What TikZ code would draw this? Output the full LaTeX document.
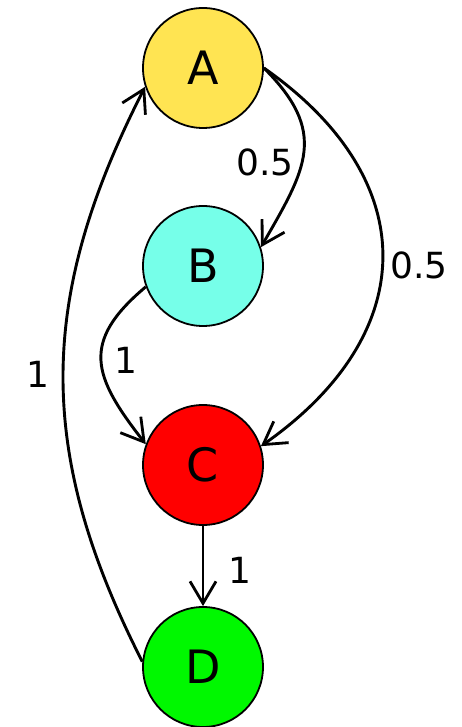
\documentclass[tikz,border=0pt]{standalone}
\usepackage{fontspec}
\setmainfont{DejaVu Sans}
\usetikzlibrary{arrows.meta}
\definecolor{stateyellow}{HTML}{FFE452}
\definecolor{stateaqua}{HTML}{76FFE9}
\definecolor{statered}{HTML}{FF0000}
\definecolor{stategreen}{HTML}{00F800}

\begin{document}
\begin{tikzpicture}[
  x=1pt,y=1pt,
  state/.style={circle,draw=black,line width=1.8pt,minimum size=120pt,
                inner sep=0pt,font=\fontsize{46}{50}\selectfont},
  edge/.style={-{Straight Barb[length=22pt,width=26pt,line width=2.8pt]},
               line width=2.9pt,draw=black},
  weight/.style={font=\fontsize{36}{40}\selectfont,inner sep=7pt}
]
\useasboundingbox (0,0) rectangle (462,727);

% states
\node[state,fill=stateyellow] (A) at (203,659) {A};
\node[state,fill=stateaqua] (B) at (203,461) {B};
\node[state,fill=statered] (C) at (203,262) {C};
\node[state,fill=stategreen] (D) at (203,60) {D};

% transitions
\draw[edge] (A.east) to[out=-45,in=60,looseness=1.3]
  node[weight,left,pos=.56] {0.5} (B.18);
\draw[edge] (A.east) to[out=-35,in=35,looseness=1.32]
  node[weight,right,pos=.52] {0.5} (C.18);
\draw[edge] (B.200) to[out=-140,in=128,looseness=1.4]
  node[weight,right,inner sep=12pt] {1} (C.160);
\draw[edge] (C) -- node[weight,right,inner sep=24pt,pos=.55] {1} (D);
\draw[edge] (D.175) to[out=117,in=-117,looseness=1.05]
  node[weight,left,inner sep=12pt] {1} (A.198);
\end{tikzpicture}
\end{document}
